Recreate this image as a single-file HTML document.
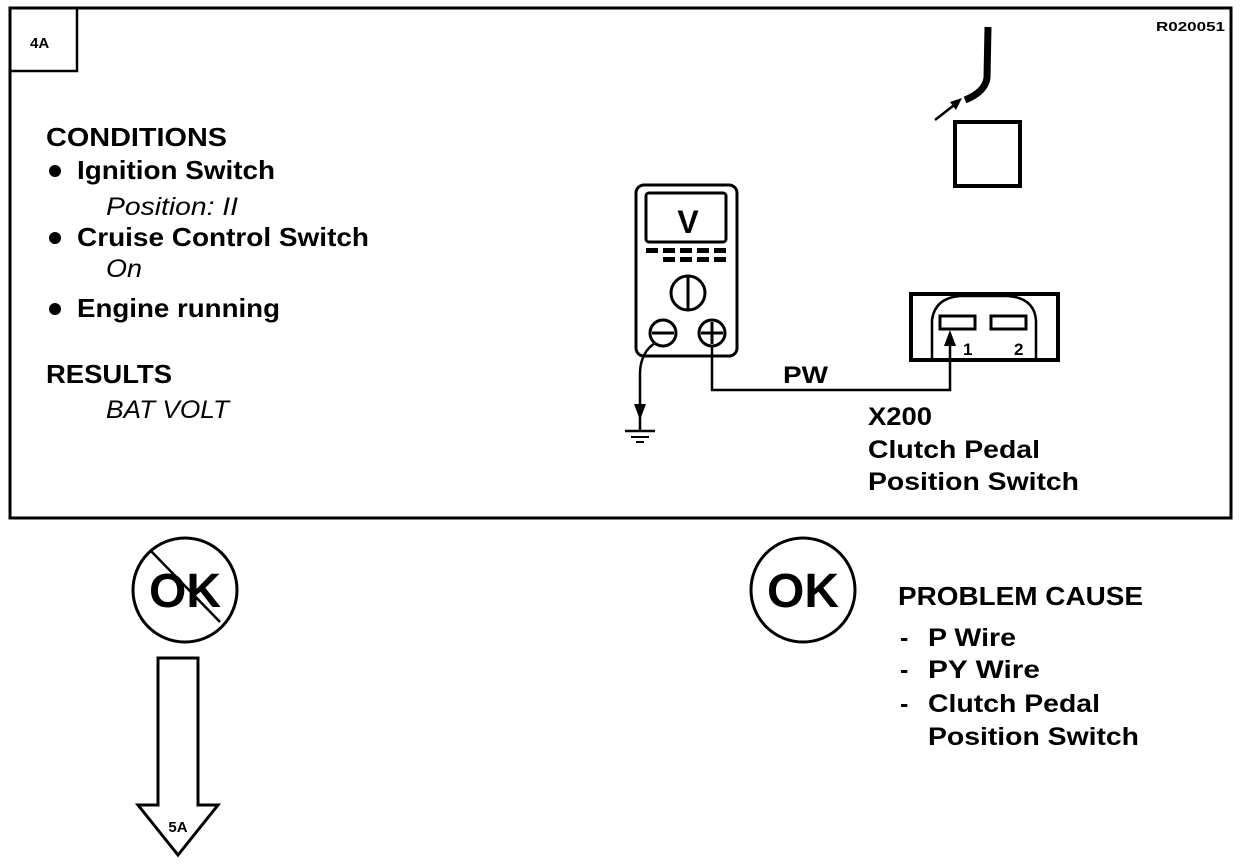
<!DOCTYPE html>
<html><head><meta charset="utf-8"><style>
html,body{margin:0;padding:0;background:#fff;}
svg{display:block;}
text{font-family:"Liberation Sans",Arial,sans-serif;font-weight:bold;fill:#000;}
.i{font-style:italic;font-weight:normal;}
</style></head><body>
<svg width="1248" height="864" viewBox="0 0 1248 864" xmlns="http://www.w3.org/2000/svg">
<rect x="10" y="8" width="1221" height="510" fill="none" stroke="#000" stroke-width="3"/>
<rect x="10" y="8" width="67" height="63" fill="none" stroke="#000" stroke-width="2.5"/>
<text x="30" y="48" font-size="15">4A</text>
<text x="1156" y="31" font-size="13" textLength="69" lengthAdjust="spacingAndGlyphs">R020051</text>

<text x="46" y="146" font-size="26" textLength="181" lengthAdjust="spacingAndGlyphs">CONDITIONS</text>
<circle cx="55" cy="171" r="6"/>
<text x="77" y="179" font-size="26" textLength="198" lengthAdjust="spacingAndGlyphs">Ignition Switch</text>
<text x="106" y="215" font-size="25" class="i" textLength="132" lengthAdjust="spacingAndGlyphs">Position: II</text>
<circle cx="55" cy="238" r="6"/>
<text x="77" y="246" font-size="26" textLength="292" lengthAdjust="spacingAndGlyphs">Cruise Control Switch</text>
<text x="106" y="277" font-size="25" class="i" textLength="36" lengthAdjust="spacingAndGlyphs">On</text>
<circle cx="55" cy="309" r="6"/>
<text x="77" y="317" font-size="26" textLength="203" lengthAdjust="spacingAndGlyphs">Engine running</text>
<text x="46" y="383" font-size="26" textLength="126" lengthAdjust="spacingAndGlyphs">RESULTS</text>
<text x="106" y="418" font-size="25" class="i" textLength="123" lengthAdjust="spacingAndGlyphs">BAT VOLT</text>

<!-- top right -->
<path d="M988 27 L987 78 Q985 92 965 100" fill="none" stroke="#000" stroke-width="7"/>
<line x1="935" y1="120" x2="958" y2="102" stroke="#000" stroke-width="2.5"/>
<polygon points="962,98 950,102 956,110" fill="#000"/>
<rect x="955" y="122" width="65" height="64" fill="none" stroke="#000" stroke-width="4"/>

<!-- meter -->
<rect x="636" y="185" width="101" height="171" rx="8" fill="none" stroke="#000" stroke-width="3"/>
<rect x="646" y="193" width="80" height="49" rx="3" fill="none" stroke="#000" stroke-width="3"/>
<text x="688" y="233" font-size="32" text-anchor="middle">V</text>
<g fill="#000">
<rect x="646" y="248" width="12" height="5"/><rect x="663" y="248" width="12" height="5"/><rect x="680" y="248" width="12" height="5"/><rect x="697" y="248" width="12" height="5"/><rect x="714" y="248" width="12" height="5"/>
<rect x="663" y="257" width="12" height="5"/><rect x="680" y="257" width="12" height="5"/><rect x="697" y="257" width="12" height="5"/><rect x="714" y="257" width="12" height="5"/>
</g>
<circle cx="688" cy="293" r="17" fill="none" stroke="#000" stroke-width="3"/>
<line x1="688" y1="277" x2="688" y2="309" stroke="#000" stroke-width="3"/>
<circle cx="663" cy="333" r="13" fill="none" stroke="#000" stroke-width="3"/>
<line x1="652" y1="333" x2="674" y2="333" stroke="#000" stroke-width="3"/>
<circle cx="712" cy="333" r="13" fill="none" stroke="#000" stroke-width="3"/>
<line x1="701" y1="333" x2="723" y2="333" stroke="#000" stroke-width="3"/>
<line x1="712" y1="322" x2="712" y2="344" stroke="#000" stroke-width="3"/>
<path d="M655 343 Q641 352 640 372 L640 430" fill="none" stroke="#000" stroke-width="2.5"/>
<polygon points="640,420 634,404 646,404" fill="#000"/>
<line x1="625" y1="431" x2="655" y2="431" stroke="#000" stroke-width="2.5"/>
<line x1="631" y1="437" x2="649" y2="437" stroke="#000" stroke-width="2"/>
<line x1="636" y1="442" x2="644" y2="442" stroke="#000" stroke-width="2"/>
<polyline points="712,346 712,390 950,390 950,336" fill="none" stroke="#000" stroke-width="2.5"/>
<polygon points="950,330 944,346 956,346" fill="#000"/>
<text x="783" y="383" font-size="24" textLength="45" lengthAdjust="spacingAndGlyphs">PW</text>

<!-- connector -->
<rect x="911" y="294" width="147" height="66" fill="none" stroke="#000" stroke-width="4"/>
<path d="M932 360 L932 320 Q935 298 960 296 L1008 296 Q1034 298 1036 320 L1036 360" fill="none" stroke="#000" stroke-width="2.5"/>
<rect x="940" y="316" width="35" height="13" fill="none" stroke="#000" stroke-width="3"/>
<rect x="991" y="316" width="35" height="13" fill="none" stroke="#000" stroke-width="3"/>
<text x="963" y="355" font-size="17">1</text>
<text x="1014" y="355" font-size="17">2</text>

<text x="868" y="425" font-size="25" textLength="64" lengthAdjust="spacingAndGlyphs">X200</text>
<text x="868" y="458" font-size="25" textLength="172" lengthAdjust="spacingAndGlyphs">Clutch Pedal</text>
<text x="868" y="490" font-size="25" textLength="211" lengthAdjust="spacingAndGlyphs">Position Switch</text>

<!-- not ok -->
<circle cx="185" cy="590" r="52" fill="none" stroke="#000" stroke-width="3"/>
<text x="185" y="607" font-size="48" text-anchor="middle">OK</text>
<line x1="150" y1="550" x2="220" y2="622" stroke="#000" stroke-width="2.5"/>
<polygon points="158,658 198,658 198,805 218,805 178,855 138,805 158,805" fill="#fff" stroke="#000" stroke-width="3"/>
<text x="178" y="832" font-size="15" text-anchor="middle">5A</text>

<!-- ok -->
<circle cx="803" cy="590" r="52" fill="none" stroke="#000" stroke-width="3"/>
<text x="803" y="607" font-size="48" text-anchor="middle">OK</text>
<text x="898" y="605" font-size="26" textLength="245" lengthAdjust="spacingAndGlyphs">PROBLEM CAUSE</text>
<text x="900" y="646" font-size="25">-</text>
<text x="928" y="646" font-size="25" textLength="88" lengthAdjust="spacingAndGlyphs">P Wire</text>
<text x="900" y="678" font-size="25">-</text>
<text x="928" y="678" font-size="25" textLength="112" lengthAdjust="spacingAndGlyphs">PY  Wire</text>
<text x="900" y="712" font-size="25">-</text>
<text x="928" y="712" font-size="25" textLength="172" lengthAdjust="spacingAndGlyphs">Clutch Pedal</text>
<text x="928" y="745" font-size="25" textLength="211" lengthAdjust="spacingAndGlyphs">Position Switch</text>
</svg>
</body></html>
